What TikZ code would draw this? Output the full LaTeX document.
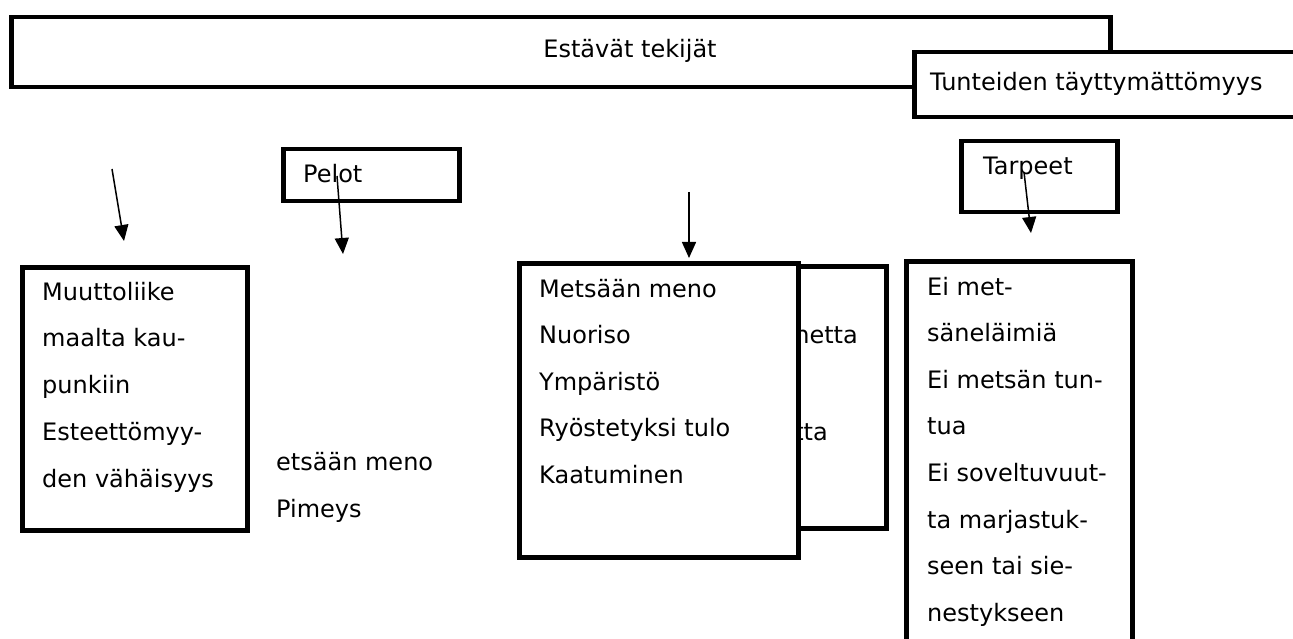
\documentclass[tikz,border=0pt]{standalone}
\usepackage{fontspec}
\setmainfont{DejaVu Sans}
\usetikzlibrary{arrows.meta}

\tikzset{
  box/.style={draw, line width=4.5pt, fill=white, inner sep=0pt, anchor=north west},
  txt/.style={anchor=base west, inner sep=0pt, font=\fontsize{24}{28}\selectfont},
  arr/.style={line width=1.5pt, -{Triangle[length=16pt,width=14pt]}},
}

\begin{document}
\begin{tikzpicture}[x=1pt,y=-1pt]
  \useasboundingbox (0,0) rectangle (1293,639);
  \clip (0,0) rectangle (1293,639);

  % top boxes
  \node[box, minimum width=1099, minimum height=70] (est) at (9,15) {};
  \node[txt, anchor=base] (estT) at (630,58) {Estävät tekijät};
  \node[box, minimum width=420, minimum height=65] (tunt) at (912,50) {};
  \node[txt] (tuntT) at (930,91) {Tunteiden täyttymättömyys};

  % small heading boxes
  \node[box, minimum width=176, minimum height=52] (pelot) at (281,147) {};
  \node[txt] (pelotT) at (303,183) {Pelot};
  \node[box, minimum width=156, minimum height=71] (tarp) at (959,139) {};
  \node[txt] (tarpT) at (983,175) {Tarpeet};

  % left box
  \node[box, minimum width=225, minimum height=263] (muutto) at (20,265) {};
  \foreach \t [count=\i from 0] in {Muuttoliike, maalta kau-, punkiin, Esteettömyy-, den vähäisyys}
    \node[txt] (muutto\i) at (42,300+46.75*\i) {\t};

  % loose text
  \node[txt] (pel0) at (276,470) {etsään meno};
  \node[txt] (pel1) at (276,517) {Pimeys};

  % back and front box
  \node[box, minimum width=284, minimum height=262] (back) at (600,264) {};
  \node[txt, anchor=base east] (back0) at (858,343) {netta};
  \node[txt, anchor=base east] (back1) at (828,440) {tta};
  \node[box, minimum width=279, minimum height=294] (front) at (517,261) {};
  \foreach \t [count=\i from 0] in {Metsään meno, Nuoriso, Ympäristö, Ryöstetyksi tulo, Kaatuminen}
    \node[txt] (front\i) at (539,297+46.5*\i) {\t};

  % right box
  \node[box, minimum width=226, minimum height=420] (ei) at (904,259) {};
  \foreach \t [count=\i from 0] in {Ei met-, säneläimiä, Ei metsän tun-, tua, Ei soveltuvuut-, ta marjastuk-, seen tai sie-, nestykseen}
    \node[txt] (ei\i) at (927,295+46.6*\i) {\t};

  % arrows
  \coordinate (a1s) at (112,169); \coordinate (a1e) at (124,241);
  \coordinate (a2s) at (337,176); \coordinate (a2e) at (343,254);
  \coordinate (a3s) at (689,192); \coordinate (a3e) at (689,258);
  \coordinate (a4s) at (1024,172); \coordinate (a4e) at (1031,233);
  \draw[arr] (a1s) -- (a1e);
  \draw[arr] (a2s) -- (a2e);
  \draw[arr] (a3s) -- (a3e);
  \draw[arr] (a4s) -- (a4e);
\end{tikzpicture}
\end{document}
